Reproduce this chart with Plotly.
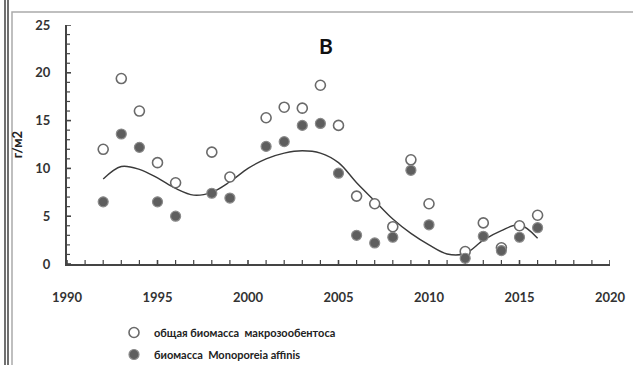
import plotly.graph_objects as go

years = [1992, 1993, 1994, 1995, 1996, 1998, 1999, 2001, 2002, 2003, 2004, 2005,
         2006, 2007, 2008, 2009, 2010, 2012, 2013, 2014, 2015, 2016]
total_biomass = [12.0, 19.4, 16.0, 10.6, 8.5, 11.7, 9.1, 15.3, 16.4, 16.3, 18.7, 14.5,
                 7.1, 6.3, 3.9, 10.9, 6.3, 1.3, 4.3, 1.7, 4.0, 5.1]
monoporeia = [6.5, 13.6, 12.2, 6.5, 5.0, 7.4, 6.9, 12.3, 12.8, 14.5, 14.7, 9.5,
              3.0, 2.2, 2.8, 9.8, 4.1, 0.6, 2.9, 1.4, 2.8, 3.8]
trend_years = [1992, 1993, 1994, 1995, 1996, 1997, 1998, 1999, 2000, 2001, 2002, 2003,
               2004, 2005, 2006, 2007, 2008, 2009, 2010, 2011, 2012, 2013, 2014, 2015, 2016]
trend_values = [8.9, 10.2, 9.9, 9.0, 7.9, 7.2, 7.5, 8.6, 10.0, 11.0, 11.6, 11.85,
                11.6, 10.6, 8.5, 6.6, 4.7, 3.2, 2.0, 1.05, 1.1, 2.5, 3.5, 4.1, 2.7]
x_ticks = [1990, 1995, 2000, 2005, 2010, 2015, 2020]
y_ticks = [0, 5, 10, 15, 20, 25]
x_minor = list(range(1990, 2021))
y_minor = list(range(0, 26))

FONT = "Lato"
W, H = 633, 365
L, R, T, B = 67, 23, 25, 101
pw, ph = W - L - R, H - T - B
AX = "#444444"
XR, YR = [1990, 2020], [0, 25]
ux = (XR[1] - XR[0]) / pw   # data units per pixel
uy = (YR[1] - YR[0]) / ph


def px(X):
    return (X - L) / pw


def py(Y):
    return (H - B - Y) / ph


fig = go.Figure()

# tick marks drawn as line segments built from the tick arrays
def seg_x(vals, below, above):
    xs, ys = [], []
    for v in vals:
        xs += [v, v, None]
        ys += [YR[0] - below * uy, YR[0] + above * uy, None]
    return xs, ys


def seg_y(vals, left, right):
    xs, ys = [], []
    for v in vals:
        xs += [XR[0] - left * ux, XR[0] + right * ux, None]
        ys += [v, v, None]
    return xs, ys


minor_x = [v for v in x_minor if v not in x_ticks]
minor_y = [v for v in y_minor if v not in y_ticks]
for xs, ys, w in [seg_x(x_ticks, 5, 4) + (1.6,), seg_x(minor_x, 0, 4) + (1.2,),
                  seg_y(y_ticks, 6, 4) + (1.6,), seg_y(minor_y, 2, 3) + (1.2,)]:
    fig.add_trace(go.Scatter(x=xs, y=ys, mode="lines", line=dict(color=AX, width=w),
                             showlegend=False, hoverinfo="skip", cliponaxis=False))

fig.add_trace(go.Scatter(
    x=trend_years, y=trend_values, mode="lines", line=dict(color="#3a3a3a", width=1.4, shape="spline", smoothing=1.0),
    showlegend=False, hoverinfo="skip"))
fig.add_trace(go.Scatter(
    x=years, y=total_biomass, mode="markers", name="общая биомасса  макрозообентоса", legendgroup="a",
    marker=dict(symbol="circle", size=10, color="white", line=dict(color="#6a6a6a", width=1.6))))
fig.add_trace(go.Scatter(
    x=years, y=monoporeia, mode="markers", name="биомасса  Monoporeia affinis", legendgroup="b",
    marker=dict(symbol="circle", size=10, color="#5e5e5e", line=dict(color="#8a8a8a", width=1.2))))

tickfont = dict(family=FONT, size=13, color="#333", weight="bold")

fig.update_layout(
    xaxis=dict(range=XR, tickvals=x_ticks, ticks="", showline=True, linecolor=AX, linewidth=2,
               showgrid=False, zeroline=False, tickfont=tickfont, ticklabelstandoff=20),
    yaxis=dict(range=YR, tickvals=y_ticks, ticks="", showline=True, linecolor=AX, linewidth=2,
               showgrid=False, zeroline=False, tickfont=tickfont, ticklabelstandoff=12,
               title=dict(text="г/м2", font=dict(family=FONT, size=13, color="#222", weight="bold"),
                          standoff=10)),
)

shapes = [
    dict(type="rect", xref="paper", yref="paper", x0=px(12), x1=px(640), y0=py(12), y1=py(372),
         line=dict(color="#aaaaaa", width=1.5), fillcolor="rgba(0,0,0,0)", layer="below"),
    dict(type="line", xref="paper", yref="paper", x0=px(5), x1=px(5), y0=py(-5), y1=py(370),
         line=dict(color="#111", width=1.2)),
    dict(type="line", xref="paper", yref="paper", x0=px(8), x1=px(8), y0=py(-5), y1=py(370),
         line=dict(color="#111", width=1.2)),
]

annotations = [
    dict(text="В", xref="paper", yref="paper", x=px(326), y=py(46), showarrow=False,
         font=dict(family=FONT, size=21, color="#111", weight="bold"), xanchor="center", yanchor="middle"),
]

fig.update_layout(
    width=W, height=H, margin=dict(l=L, r=R, t=T, b=B, autoexpand=False),
    paper_bgcolor="white", plot_bgcolor="white",
    shapes=shapes, annotations=annotations,
    legend=dict(x=px(114), y=py(318), xanchor="left", yanchor="top", orientation="v",
                font=dict(family=FONT, size=11, color="#222", weight="bold"),
                traceorder="grouped", tracegroupgap=3, itemsizing="trace", itemwidth=30,
                bgcolor="rgba(0,0,0,0)"),
)

fig.write_html("out.html")
